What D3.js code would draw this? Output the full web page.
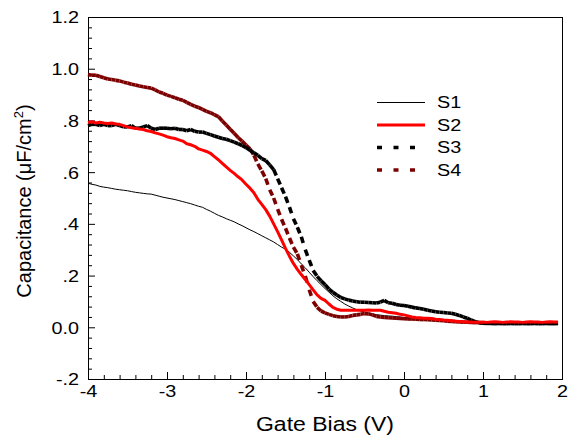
<!DOCTYPE html>
<html><head><meta charset="utf-8">
<script src="https://cdn.jsdelivr.net/npm/d3@7"></script>
<style>
body{margin:0;background:#fff}
svg{display:block}
text{font-family:"Liberation Sans",Arial,sans-serif;fill:#000}
</style>
</head><body>
<svg id="chart" width="569" height="443"></svg>
<script>
// ---- data ----
const biasV = [
-4.00,-3.95,-3.90,-3.85,-3.80,-3.75,-3.70,-3.65,-3.60,-3.55,
-3.50,-3.45,-3.40,-3.35,-3.30,-3.25,-3.20,-3.15,-3.10,-3.05,
-3.00,-2.95,-2.90,-2.85,-2.80,-2.75,-2.70,-2.65,-2.60,-2.55,
-2.50,-2.45,-2.40,-2.35,-2.30,-2.25,-2.20,-2.15,-2.10,-2.05,
-2.00,-1.95,-1.90,-1.85,-1.80,-1.75,-1.70,-1.65,-1.60,-1.55,
-1.50,-1.45,-1.40,-1.35,-1.30,-1.25,-1.20,-1.15,-1.10,-1.05,
-1.00,-0.95,-0.90,-0.85,-0.80,-0.75,-0.70,-0.65,-0.60,-0.55,
-0.50,-0.45,-0.40,-0.35,-0.30,-0.25,-0.20,-0.15,-0.10,-0.05,
0.00,0.05,0.10,0.15,0.20,0.25,0.30,0.35,0.40,0.45,
0.50,0.55,0.60,0.65,0.70,0.75,0.80,0.85,0.90,0.95,
1.00,1.05,1.10,1.15,1.20,1.25,1.30,1.35,1.40,1.45,
1.50,1.55,1.60,1.65,1.70,1.75,1.80,1.85,1.90,1.95];

const seriesNames = ["S1","S2","S3","S4"];

const capS1 = [
0.557,0.553,0.550,0.545,0.542,0.540,0.537,0.534,0.532,0.530,
0.528,0.525,0.522,0.520,0.518,0.516,0.515,0.511,0.507,0.503,
0.500,0.497,0.494,0.490,0.486,0.482,0.478,0.473,0.468,0.464,
0.456,0.449,0.441,0.433,0.427,0.420,0.414,0.408,0.400,0.393,
0.385,0.377,0.370,0.362,0.354,0.346,0.338,0.330,0.320,0.310,
0.302,0.290,0.276,0.262,0.245,0.230,0.213,0.196,0.180,0.165,
0.150,0.136,0.122,0.110,0.100,0.090,0.082,0.075,0.068,0.063,
0.059,0.055,0.052,0.049,0.047,0.045,0.044,0.043,0.041,0.040,
0.038,0.037,0.036,0.034,0.033,0.032,0.031,0.030,0.029,0.028,
0.027,0.026,0.025,0.024,0.023,0.022,0.021,0.020,0.020,0.019,
0.019,0.018,0.019,0.018,0.018,0.019,0.018,0.018,0.019,0.018,
0.018,0.019,0.018,0.018,0.019,0.018,0.018,0.019,0.018,0.018];

const capS2 = [
0.792,0.795,0.790,0.793,0.790,0.788,0.790,0.786,0.785,0.780,
0.775,0.772,0.770,0.767,0.765,0.760,0.757,0.752,0.748,0.743,
0.737,0.733,0.730,0.725,0.720,0.710,0.706,0.700,0.690,0.685,
0.680,0.673,0.660,0.648,0.634,0.620,0.607,0.595,0.582,0.570,
0.553,0.538,0.520,0.495,0.475,0.455,0.430,0.400,0.370,0.338,
0.305,0.275,0.247,0.224,0.204,0.185,0.165,0.145,0.125,0.112,
0.104,0.090,0.077,0.070,0.066,0.066,0.066,0.066,0.066,0.066,
0.066,0.067,0.066,0.066,0.066,0.062,0.058,0.056,0.054,0.050,
0.048,0.044,0.040,0.038,0.037,0.035,0.035,0.034,0.031,0.030,
0.028,0.027,0.025,0.023,0.022,0.021,0.020,0.020,0.019,0.019,
0.020,0.019,0.020,0.021,0.020,0.019,0.020,0.021,0.020,0.020,
0.019,0.020,0.021,0.020,0.020,0.019,0.020,0.021,0.020,0.020];

const capS3 = [
0.780,0.785,0.785,0.780,0.785,0.780,0.780,0.785,0.780,0.775,
0.775,0.780,0.770,0.770,0.775,0.780,0.770,0.765,0.770,0.770,
0.770,0.768,0.770,0.765,0.765,0.760,0.765,0.758,0.755,0.755,
0.750,0.745,0.740,0.735,0.730,0.727,0.722,0.716,0.710,0.703,
0.695,0.685,0.675,0.665,0.652,0.645,0.628,0.610,0.575,0.540,
0.505,0.465,0.420,0.387,0.350,0.300,0.260,0.220,0.197,0.180,
0.165,0.148,0.135,0.125,0.115,0.110,0.105,0.102,0.099,0.097,
0.097,0.096,0.095,0.094,0.097,0.104,0.095,0.093,0.088,0.085,
0.084,0.081,0.078,0.075,0.073,0.070,0.066,0.063,0.060,0.058,
0.057,0.055,0.054,0.050,0.046,0.040,0.035,0.028,0.022,0.018,
0.016,0.015,0.015,0.014,0.015,0.014,0.014,0.015,0.014,0.014,
0.015,0.014,0.014,0.015,0.014,0.014,0.015,0.014,0.014,0.015];

const capS4 = [
0.978,0.975,0.975,0.970,0.965,0.960,0.958,0.955,0.953,0.948,
0.945,0.940,0.937,0.933,0.930,0.927,0.925,0.918,0.910,0.905,
0.898,0.893,0.888,0.882,0.878,0.870,0.862,0.855,0.850,0.843,
0.835,0.830,0.822,0.815,0.798,0.782,0.766,0.750,0.734,0.720,
0.705,0.690,0.665,0.632,0.605,0.575,0.532,0.500,0.457,0.418,
0.383,0.345,0.310,0.284,0.240,0.198,0.145,0.100,0.077,0.063,
0.056,0.050,0.045,0.042,0.040,0.040,0.042,0.046,0.048,0.050,
0.053,0.052,0.048,0.042,0.040,0.038,0.037,0.036,0.035,0.034,
0.033,0.032,0.032,0.031,0.030,0.030,0.029,0.028,0.027,0.026,
0.025,0.024,0.023,0.022,0.021,0.020,0.020,0.019,0.018,0.018,
0.017,0.017,0.016,0.016,0.016,0.017,0.016,0.016,0.017,0.016,
0.016,0.017,0.016,0.016,0.017,0.016,0.016,0.017,0.016,0.016];

const xTickValues = [-4,-3,-2,-1,0,1,2];
const xTickLabels = ["-4","-3","-2","-1","0","1","2"];
const yTickValues = [-0.2,0,0.2,0.4,0.6,0.8,1.0,1.2];
const yTickLabels = ["-.2","0.0",".2",".4",".6",".8","1.0","1.2"];
const xTitle = "Gate Bias (V)";

// ---- chart ----
const svg = d3.select("#chart");
const X0 = 88, X1 = 562, Y0 = 379, Y1 = 17;
const x = d3.scaleLinear().domain([-4, 2]).range([X0, X1]);
const y = d3.scaleLinear().domain([-0.2, 1.2]).range([Y0, Y1]);

const styles = {
  S1: {color:"#000000", width:1, dash:null, legendDash:null},
  S2: {color:"#ff0000", width:3, dash:null, legendDash:null},
  S3: {color:"#000000", width:3.6, dash:"6.5,10", legendDash:"5,11.5"},
  S4: {color:"#7d0000", width:3.6, dash:"6.5,10", legendDash:"5,11.5"}
};
const seriesData = {S1: capS1, S2: capS2, S3: capS3, S4: capS4};

// minor ticks
const xMinor = d3.range(-4, 2.0001, 0.2).filter(v => Math.abs(v - Math.round(v)) > 1e-6);
const yMinor = d3.range(-0.2, 1.2001, 0.04).filter(v => Math.abs(v*5 - Math.round(v*5)) > 1e-6);

svg.append("g").attr("transform", `translate(0,${Y0})`)
  .call(d3.axisBottom(x).tickValues(xMinor).tickSizeInner(-4).tickSizeOuter(0).tickFormat(""))
  .call(g => g.select(".domain").remove());
svg.append("g").attr("transform", `translate(${X0},0)`)
  .call(d3.axisLeft(y).tickValues(yMinor).tickSizeInner(-4).tickSizeOuter(0).tickFormat(""))
  .call(g => g.select(".domain").remove());

const xAxis = svg.append("g").attr("transform", `translate(0,${Y0})`)
  .call(d3.axisBottom(x).tickValues(xTickValues).tickSizeInner(-7).tickSizeOuter(0)
    .tickPadding(18).tickFormat((d,i) => xTickLabels[i]));
xAxis.select(".domain").remove();
xAxis.selectAll("text").attr("dy", 0).attr("font-size", 16.5)
  .attr("font-family", '"Liberation Sans", Arial, sans-serif')
  .attr("transform", "scale(1.2,1)").attr("fill", "#000");

const yAxis = svg.append("g").attr("transform", `translate(${X0},0)`)
  .call(d3.axisLeft(y).tickValues(yTickValues).tickSizeInner(-7).tickSizeOuter(0)
    .tickPadding(9).tickFormat((d,i) => yTickLabels[i]));
yAxis.select(".domain").remove();
yAxis.selectAll("text").attr("dy", "0.36em").attr("font-size", 16.5)
  .attr("font-family", '"Liberation Sans", Arial, sans-serif')
  .attr("x", -9/1.2).attr("transform", "scale(1.2,1)").attr("fill", "#000");

svg.selectAll(".tick line").attr("stroke", "#000");

// frame
svg.append("rect").attr("x", X0 + 0.5).attr("y", Y1 + 0.5)
  .attr("width", X1 - X0).attr("height", Y0 - Y1)
  .attr("fill", "none").attr("stroke", "#000").attr("stroke-width", 1);

// series (dash pattern restarts on every data segment, as in the original plot)
const plotOrder = ["S1","S4","S3","S2"];
plotOrder.forEach(name => {
  const st = styles[name];
  const vals = seriesData[name];
  const pts = biasV.map((v,i) => [x(v), y(vals[i])]);
  if (!st.dash) {
    svg.append("path").datum(pts)
      .attr("d", d3.line())
      .attr("fill", "none").attr("stroke", st.color)
      .attr("stroke-width", st.width).attr("stroke-linejoin", "round");
  } else {
    const segs = d3.pairs(pts);
    svg.append("g").selectAll("line").data(segs).join("line")
      .attr("x1", d => d[0][0]).attr("y1", d => d[0][1])
      .attr("x2", d => d[1][0]).attr("y2", d => d[1][1])
      .attr("stroke", st.color).attr("stroke-width", st.width)
      .attr("stroke-dasharray", st.dash).attr("stroke-linecap", "butt");
  }
});

// legend
const legend = svg.append("g");
seriesNames.forEach((name, i) => {
  const st = styles[name];
  const ly = 102.5 + i * 22.5;
  legend.append("line").attr("x1", 377).attr("x2", 425).attr("y1", ly).attr("y2", ly)
    .attr("stroke", st.color).attr("stroke-width", st.width)
    .attr("stroke-dasharray", st.legendDash);
  legend.append("text").attr("x", 437/1.2).attr("y", ly).attr("dy", "0.36em")
    .attr("transform", "scale(1.2,1)").attr("font-size", 16.5).text(name);
});

// axis titles
svg.append("text").attr("x", 325/1.18).attr("y", 431)
  .attr("transform", "scale(1.18,1)")
  .attr("text-anchor", "middle").attr("font-size", 19.5).text(xTitle);

const yt = svg.append("text").attr("transform", "translate(31,201) rotate(-90)")
  .attr("text-anchor", "middle").attr("font-size", 20);
yt.append("tspan").text("Capacitance (\u03BCF/cm");
yt.append("tspan").attr("dy", -8).attr("font-size", 13).text("2");
yt.append("tspan").attr("dy", 8).text(")");
</script>
</body></html>
